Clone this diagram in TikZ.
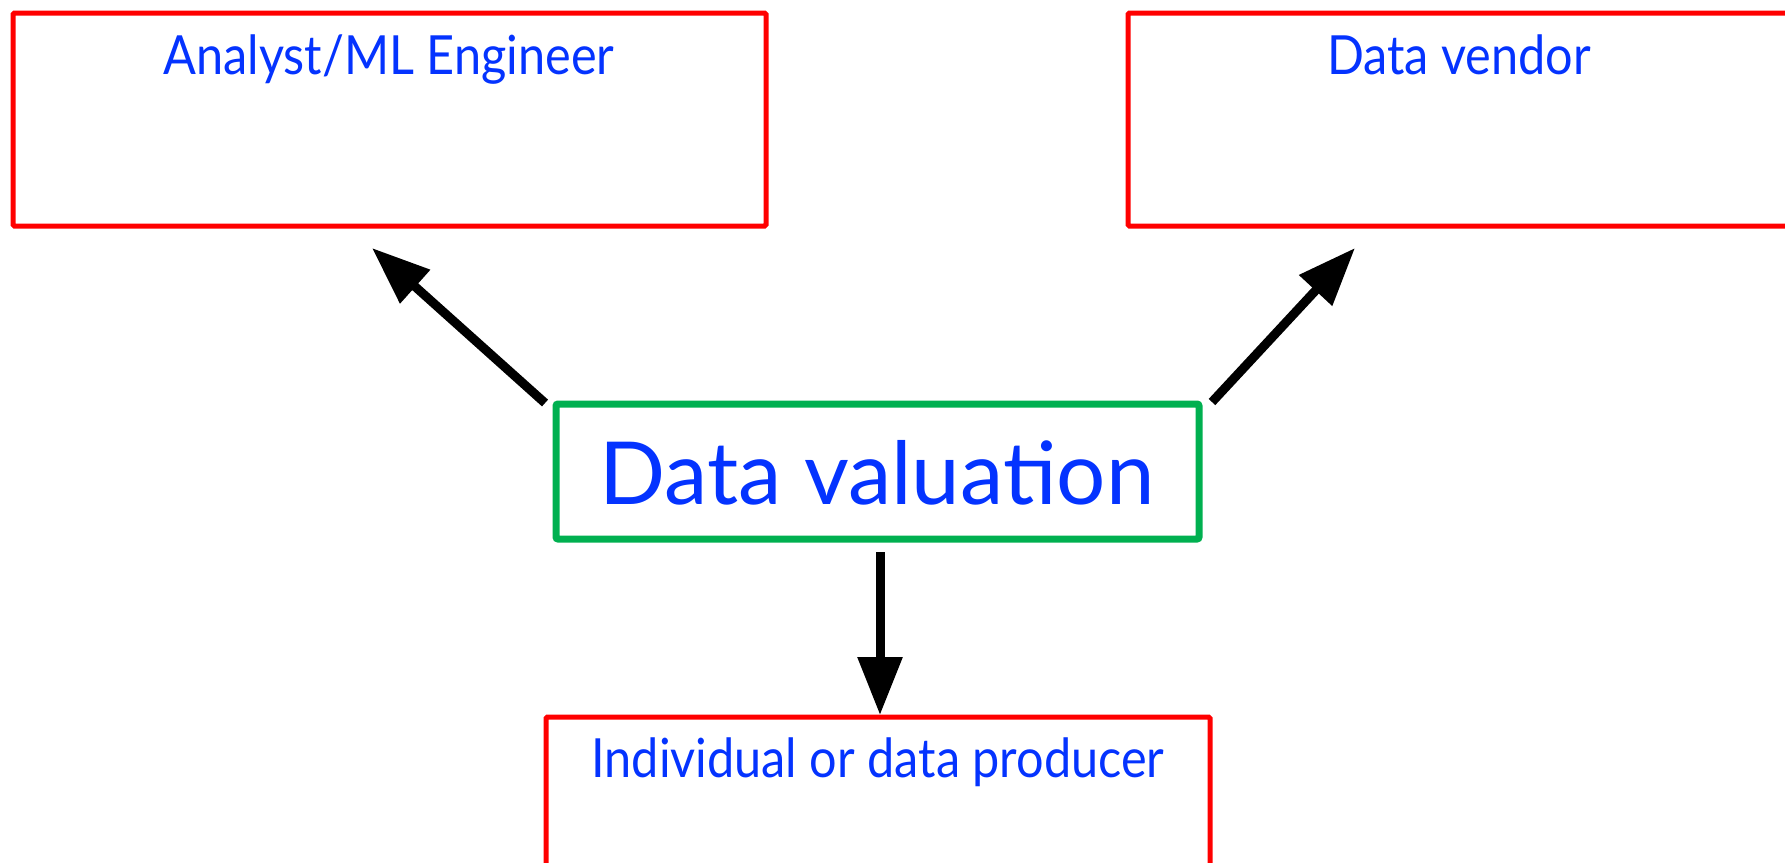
\documentclass[tikz,border=0pt]{standalone}
\usepackage{fontspec}
\setmainfont{Lato}
\newfontfamily\narrowsans[FakeStretch=0.9]{Lato}
\usetikzlibrary{arrows.meta}
\definecolor{boxred}{HTML}{FF0000}
\definecolor{boxgreen}{HTML}{00B050}
\definecolor{txtblue}{HTML}{0433FF}
\tikzset{
  rolebox/.style={draw=boxred, line width=5pt, rounded corners=1.5pt},
  corebox/.style={draw=boxgreen, line width=7pt, rounded corners=2pt},
  rolelabel/.style={anchor=base, text=txtblue, inner sep=0pt,
    font=\narrowsans\fontsize{54}{60}\selectfont},
  corelabel/.style={anchor=base, text=txtblue, inner sep=0pt,
    font=\fontsize{87}{96}\selectfont},
  flow/.style={line width=9pt, -{Triangle[length=58pt,width=43pt]}},
  flowshadow/.style={flow, draw=black!25, fill=black!25, opacity=0.5,
    shift={(2,3)}}
}
\begin{document}
\begin{tikzpicture}[x=1pt,y=-1pt]
\useasboundingbox (0,0) rectangle (1785,862);

% role boxes
\draw[rolebox] (13,13) rectangle (766,226);
\draw[rolebox] (1128,13) rectangle (1800,226);
\draw[rolebox] (546,717) rectangle (1210,900);

% central box
\node[corebox, minimum width=643pt, minimum height=135pt, inner sep=0pt]
  (val) at (877.5,471.5) {};

% labels
\node[rolelabel] (analystlbl) at (389,74) {Analyst/ML Engineer};
\node[rolelabel] (vendorlbl) at (1459,74) {Data vendor};
\node[rolelabel] (producerlbl) at (878,777) {Individual or data producer};
\node[corelabel] (vallbl) at (877,504) {Data valuation};

% connector ends
\coordinate (a1s) at (545,403);
\coordinate (a1e) at (372,248);
\coordinate (a2s) at (1212,402);
\coordinate (a2e) at (1355,248);
\coordinate (a3s) at (880,552);
\coordinate (a3e) at (880,715);

% soft drop shadows, then the arrows
\draw[flowshadow] (a1s) -- (a1e);
\draw[flowshadow] (a2s) -- (a2e);
\draw[flowshadow] (a3s) -- (a3e);
\draw[flow] (a1s) -- (a1e);
\draw[flow] (a2s) -- (a2e);
\draw[flow] (a3s) -- (a3e);
\end{tikzpicture}
\end{document}
